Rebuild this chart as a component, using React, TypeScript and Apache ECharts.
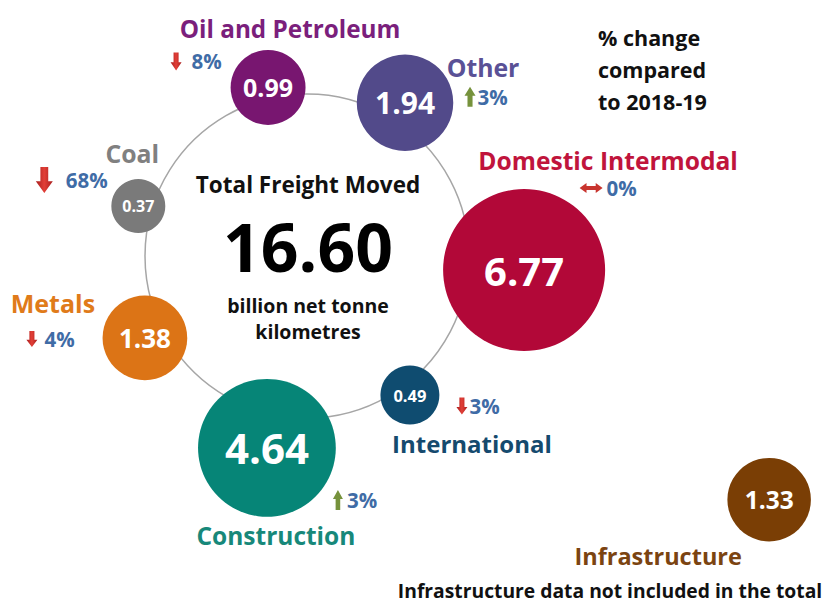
import { useEffect, useRef } from "react";
import * as echarts from "echarts";

// ---------- data ----------
const categories = [
  "Oil and Petroleum",
  "Other",
  "Domestic Intermodal",
  "International",
  "Construction",
  "Metals",
  "Coal",
  "Infrastructure",
];
const freightBntk = [0.99, 1.94, 6.77, 0.49, 4.64, 1.38, 0.37, 1.33];
const changePct: (number | null)[] = [-8, 3, 0, -3, 3, -4, -68, null];
const totalFreight = 16.6;
const comparedTo = "2018-19";

// ---------- layout / style ----------
const ringAngle = [347, 32.6, 93.7, 143.5, 191.8, 243.2, 286.5, 117.8];
const ringDist = [1.068, 1.123, 1.343, 1.068, 1.21, 1.121, 1.086, 3.225];
const bubbleColors = ["#781670", "#524A8A", "#B20838", "#0F4C70", "#068577", "#DC7416", "#7A7A7A", "#7A3E05"];
const nameColors = ["#7B1F7C", "#5A5196", "#C0143C", "#154A6E", "#17887A", "#E07B1A", "#808080", "#7B4411"];
const valueFont = [25, 30, 40, 16.5, 42, 26, 16, 24.5];
const nameFont = [24.3, 24.8, 24.6, 24, 24.5, 25, 24.8, 23.5];
const nameOffset = [[22, -59], [78, -36], [84, -110], [62, 48], [9, 88], [-92, -35], [-6, -53], [-111, 56]];
const arrowOffset = [[-92, -26], [65, -6], [67, -82], [52, 11], [71, 52], [-113, 1], [-94, -26]];
const arrowSize = [[11, 18], [11, 20], [23, 10], [11, 17], [10, 20], [11, 16], [17, 26]];
const arrowGap = [10, 2, 4, 2, 4, 7, 13];

const FONT = "'Open Sans'";
const PCT_BLUE = "#3F6CA6";
const DOWN = "path://M27,0 L73,0 L73,55 L100,55 L50,100 L0,55 L27,55 Z";
const UP = "path://M27,100 L73,100 L73,45 L100,45 L50,0 L0,45 L27,45 Z";
const BOTH = "path://M0,50 L30,0 L30,30 L70,30 L70,0 L100,50 L70,100 L70,70 L30,70 L30,100 Z";

const redGrad = {
  type: "linear", x: 0, y: 0, x2: 1, y2: 0,
  colorStops: [
    { offset: 0, color: "#A81E1E" },
    { offset: 0.5, color: "#E23F37" },
    { offset: 1, color: "#A81E1E" },
  ],
};

const bubbleSize = (v: number) => 2 * (10.5 + 27.1 * Math.sqrt(v));

export default function App() {
  const ref = useRef<HTMLDivElement>(null);
  useEffect(() => {
    if (!ref.current) return;
    const chart = echarts.init(ref.current, null, { renderer: "svg" });

    const bubbleData = categories.map((name, i) => ({
      name,
      value: [ringDist[i], ringAngle[i], freightBntk[i]],
      symbolSize: bubbleSize(freightBntk[i]),
      itemStyle: { color: bubbleColors[i], opacity: 1 },
      label: { fontSize: valueFont[i] },
    }));

    const nameData = categories.map((name, i) => ({
      name,
      value: [ringDist[i], ringAngle[i]],
      symbolOffset: nameOffset[i],
      label: { color: nameColors[i], fontSize: nameFont[i] },
    }));

    const changeData = changePct
      .map((c, i) => {
        if (c === null) return null;
        const sym = c < 0 ? DOWN : c > 0 ? UP : BOTH;
        return {
          name: categories[i],
          value: [ringDist[i], ringAngle[i], c],
          symbol: sym,
          symbolSize: arrowSize[i],
          symbolOffset: arrowOffset[i],
          symbolKeepAspect: false,
          itemStyle: { color: c > 0 ? "#76923C" : c < 0 ? redGrad : "#C8342E", opacity: 1 },
          label: { distance: arrowGap[i] },
        };
      })
      .filter((d) => d !== null);

    chart.setOption({
      animation: false,
      backgroundColor: "#ffffff",
      polar: { center: [307, 256], radius: 162 },
      angleAxis: {
        type: "value",
        min: 0,
        max: 360,
        startAngle: 90,
        clockwise: true,
        axisLine: { show: true, lineStyle: { color: "#A6A6A6", width: 1.5 } },
        axisTick: { show: false },
        axisLabel: { show: false },
        splitLine: { show: false },
      },
      radiusAxis: { type: "value", min: 0, max: 1, show: false },
      series: [
        {
          type: "scatter",
          coordinateSystem: "polar",
          clip: false,
          symbol: "circle",
          data: bubbleData,
          z: 3,
          itemStyle: { opacity: 1 },
          emphasis: { disabled: true },
          label: {
            show: true,
            position: "inside",
            color: "#ffffff",
            fontWeight: "bold",
            fontFamily: FONT,
            formatter: (p: any) => Number(p.value[2]).toFixed(2),
          },
        },
        {
          type: "scatter",
          coordinateSystem: "polar",
          clip: false,
          symbol: "circle",
          symbolSize: 1,
          itemStyle: { color: "rgba(0,0,0,0)", opacity: 1 },
          emphasis: { disabled: true },
          data: nameData,
          z: 4,
          label: {
            show: true,
            position: "inside",
            fontWeight: "bold",
            fontFamily: FONT,
            formatter: (p: any) => p.name,
          },
        },
        {
          type: "scatter",
          coordinateSystem: "polar",
          clip: false,
          data: changeData,
          z: 4,
          itemStyle: { opacity: 1 },
          emphasis: { disabled: true },
          label: {
            show: true,
            position: "right",
            color: PCT_BLUE,
            fontWeight: "bold",
            fontFamily: FONT,
            fontSize: 20.5,
            formatter: (p: any) => `${Math.abs(p.value[2])}%`,
          },
        },
      ],
      graphic: [
        {
          type: "text",
          x: 308, y: 184,
          style: { text: "Total Freight Moved", textAlign: "center", textVerticalAlign: "middle", fill: "#111", font: `bold 22.5px ${FONT}` },
        },
        {
          type: "text",
          x: 308, y: 246,
          style: { text: totalFreight.toFixed(2), textAlign: "center", textVerticalAlign: "middle", fill: "#000", font: `bold 66px ${FONT}` },
        },
        {
          type: "text",
          x: 308, y: 318,
          style: { text: "billion net tonne\nkilometres", textAlign: "center", textVerticalAlign: "middle", fill: "#111", font: `bold 19.5px ${FONT}`, lineHeight: 26 },
        },
        {
          type: "text",
          x: 598, y: 69,
          style: { text: `% change\ncompared\nto ${comparedTo}`, textAlign: "left", textVerticalAlign: "middle", fill: "#111", font: `bold 21.5px ${FONT}`, lineHeight: 32 },
        },
        {
          type: "text",
          x: 610, y: 590,
          style: { text: "Infrastructure data not included in the total", textAlign: "center", textVerticalAlign: "middle", fill: "#111", font: `bold 19.3px ${FONT}` },
        },
      ],
    });
    return () => chart.dispose();
  }, []);
  return <div ref={ref} style={{ position: "fixed", left: 0, top: 0, width: 827, height: 603 }} />;
}
